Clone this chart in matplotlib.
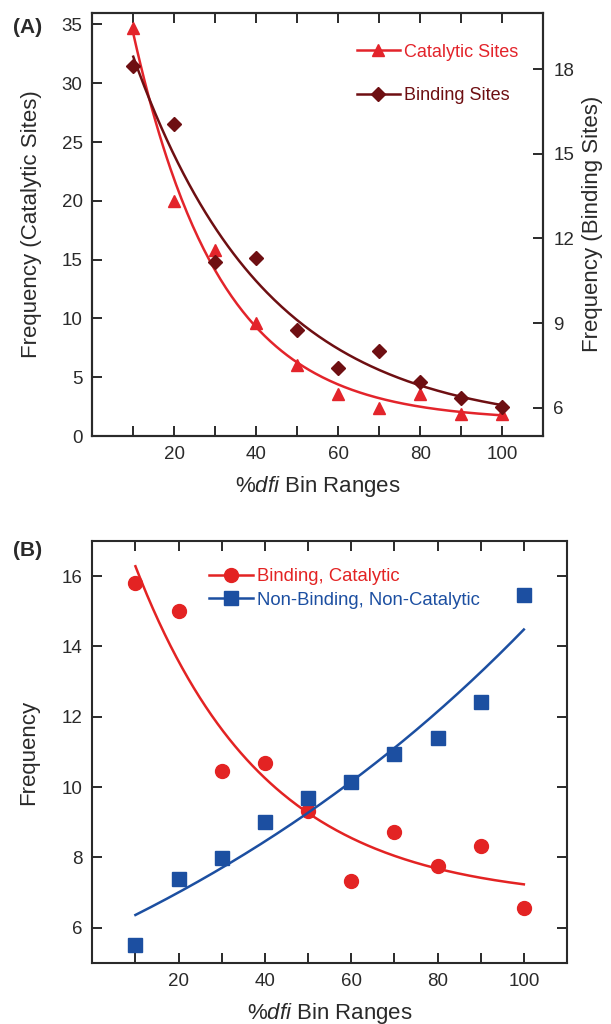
import matplotlib
matplotlib.use("Agg")
import matplotlib.pyplot as plt
import numpy as np

plt.rcParams["font.family"] = ["Liberation Sans", "DejaVu Sans"]
plt.rcParams["mathtext.fontset"] = "custom"
plt.rcParams["mathtext.it"] = "Liberation Sans:italic"
plt.rcParams["mathtext.rm"] = "Liberation Sans"

# data
bins = [10, 20, 30, 40, 50, 60, 70, 80, 90, 100]
catalytic = [34.7, 20.0, 15.8, 9.6, 6.05, 3.6, 2.4, 3.6, 1.85, 1.85]
binding = [18.1, 16.05, 11.15, 11.3, 8.75, 7.4, 8.0, 6.9, 6.35, 6.03]
bind_cat = [15.8, 15.0, 10.47, 10.68, 9.31, 7.34, 8.72, 7.75, 8.33, 6.57]
nonbind_noncat = [5.51, 7.38, 7.99, 9.0, 9.7, 10.16, 10.95, 11.41, 12.41, 15.46]

RED = "#e3242b"
DARKRED = "#6e0f12"
BRED = "#e32323"
BLUE = "#1c4fa1"
TXT = "#2a2a2a"
TICK_FS = 13.5
LABEL_FS = 16


def exp_fit(x, y):
    # y = c0 + c1 * exp(b x), scan b and solve linear part
    x = np.asarray(x, float)
    y = np.asarray(y, float)
    best = None
    for b in np.concatenate([np.linspace(-0.2, -0.001, 400), np.linspace(0.001, 0.1, 400)]):
        A = np.column_stack([np.ones_like(x), np.exp(b * x)])
        coef, *_ = np.linalg.lstsq(A, y, rcond=None)
        sse = np.sum((A @ coef - y) ** 2)
        if best is None or sse < best[0]:
            best = (sse, b, coef)
    _, b, coef = best
    xs = np.linspace(x.min(), x.max(), 200)
    return xs, coef[0] + coef[1] * np.exp(b * xs)


def style_axis(ax):
    for s in ax.spines.values():
        s.set_linewidth(1.5)
        s.set_color(TXT)
    ax.tick_params(direction="in", length=7, width=1.4, colors=TXT, labelsize=TICK_FS, labelcolor=TXT)
    ax.set_xlim(0, 110)
    ax.set_xticks(bins)
    ax.set_xticklabels([str(b) if b % 20 == 0 else "" for b in bins])
    ax.tick_params(axis="x", pad=7)
    ax.tick_params(axis="y", pad=7)


fig = plt.figure(figsize=(6.11, 10.24), dpi=100)

# panel A
axA = fig.add_axes([0.151, 0.5742, 0.7385, 0.4134])
style_axis(axA)
axA.tick_params(top=True)
axA.set_ylim(0, 36)
axA.set_yticks(range(0, 36, 5))
axA2 = axA.twinx()
for s in axA2.spines.values():
    s.set_linewidth(1.5)
    s.set_color(TXT)
axA2.set_ylim(5, 20)
axA2.set_yticks([6, 9, 12, 15, 18])
axA2.tick_params(direction="in", length=7, width=1.4, colors=TXT, labelsize=TICK_FS,
                 labelcolor=TXT, pad=7)

xs, ys = exp_fit(bins, catalytic)
axA.plot(xs, ys, color=RED, lw=1.8)
axA.plot(bins, catalytic, "^", color=RED, ms=9, mec=RED)
xs, ys = exp_fit(bins, binding)
axA2.plot(xs, ys, color=DARKRED, lw=1.8)
axA2.plot(bins, binding, "D", color=DARKRED, ms=7, mec=DARKRED)

hA1, = axA.plot([], [], "-^", color=RED, ms=9, lw=1.8)
hA2, = axA.plot([], [], "-D", color=DARKRED, ms=7, lw=1.8)
legA = axA.legend([hA1, hA2], ["Catalytic Sites", "Binding Sites"], frameon=False,
                  loc="upper left", bbox_to_anchor=(0.55, 0.965), fontsize=13,
                  handlelength=2.4, handletextpad=0.2, labelspacing=1.45)
for t, c in zip(legA.get_texts(), [RED, DARKRED]):
    t.set_color(c)

axA.set_xlabel(r"%$\mathit{dfi}$ Bin Ranges", fontsize=LABEL_FS, color=TXT, labelpad=8)
axA.set_ylabel("Frequency (Catalytic Sites)", fontsize=LABEL_FS, color=TXT, labelpad=14)
axA2.set_ylabel("Frequency (Binding Sites)", fontsize=LABEL_FS, color=TXT, labelpad=6)
fig.text(0.022, 0.968, "(A)", fontsize=15, fontweight="bold", color=TXT)

# panel B
axB = fig.add_axes([0.151, 0.0596, 0.777, 0.4121])
style_axis(axB)
axB.tick_params(top=True, right=True)
axB.set_ylim(5, 17)
axB.set_yticks([6, 8, 10, 12, 14, 16])

xs, ys = exp_fit(bins, bind_cat)
axB.plot(xs, ys, color=BRED, lw=1.8)
axB.plot(bins, bind_cat, "o", color=BRED, ms=10)
xs, ys = exp_fit(bins, nonbind_noncat)
axB.plot(xs, ys, color=BLUE, lw=1.8)
axB.plot(bins, nonbind_noncat, "s", color=BLUE, ms=10)

hB1, = axB.plot([], [], "-o", color=BRED, ms=10, lw=1.8)
hB2, = axB.plot([], [], "-s", color=BLUE, ms=10, lw=1.8)
legB = axB.legend([hB1, hB2], ["Binding, Catalytic", "Non-Binding, Non-Catalytic"], frameon=False,
                  loc="upper left", bbox_to_anchor=(0.21, 0.975), fontsize=13.3,
                  handlelength=2.4, handletextpad=0.2, labelspacing=0.35)
for t, c in zip(legB.get_texts(), [BRED, BLUE]):
    t.set_color(c)

axB.set_xlabel(r"%$\mathit{dfi}$ Bin Ranges", fontsize=LABEL_FS, color=TXT, labelpad=8)
axB.set_ylabel("Frequency", fontsize=LABEL_FS, color=TXT, labelpad=16)
fig.text(0.022, 0.457, "(B)", fontsize=15, fontweight="bold", color=TXT)

fig.savefig("out.png", dpi=100)
